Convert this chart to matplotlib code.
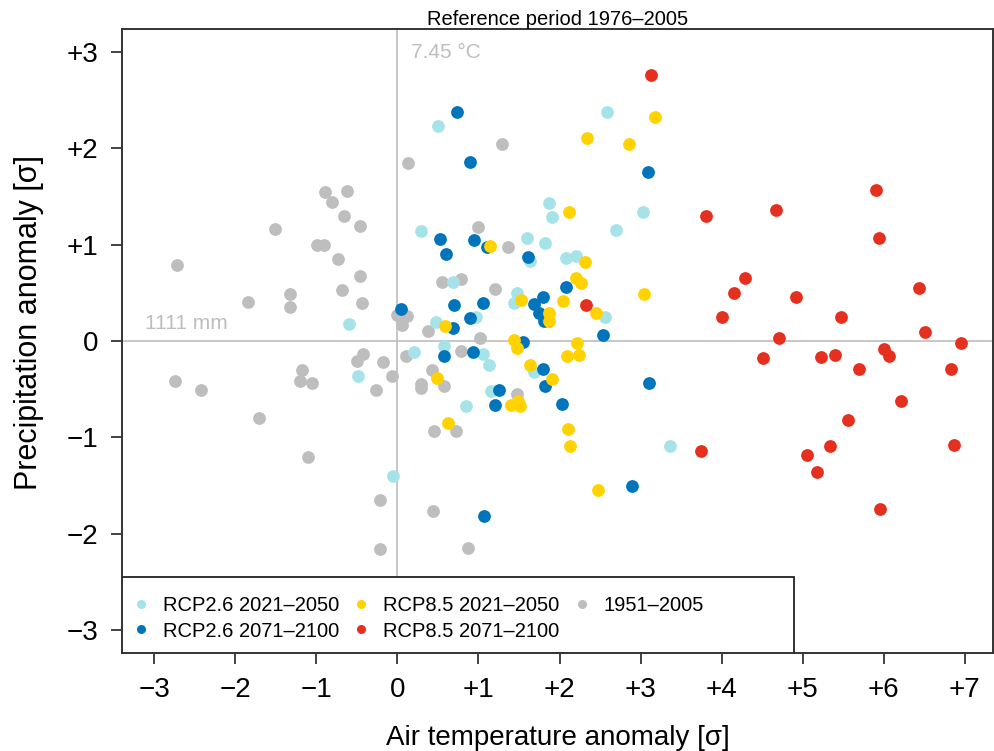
import matplotlib
matplotlib.use("Agg")
import matplotlib.pyplot as plt
from matplotlib.lines import Line2D
from matplotlib.patches import Rectangle

plt.rcParams['font.family'] = ['Liberation Sans', 'DejaVu Sans']

# observed years 1951-2005
gray_x = [0.13, -0.90, -0.62, -0.81, -0.66, -0.46, -1.51, -0.99, -0.91, -0.74, -2.72, -0.46, -0.69, -1.33,
          -1.84, -1.33, -0.44, 0.00, 0.12, 0.06, -2.74, -2.43, -1.18, -1.20, -1.06, -1.71, -1.11, -0.42,
          -0.50, -0.18, -0.27, -0.07, 0.11, -0.22, -0.22, 1.29, 1.00, 1.36, 0.55, 0.79, 1.20, 0.38, 1.02,
          0.79, 0.43, 0.29, 0.29, 0.57, 1.48, 0.45, 0.72, 0.44, 0.87]
gray_y = [1.85, 1.55, 1.56, 1.44, 1.30, 1.19, 1.16, 1.00, 1.00, 0.85, 0.79, 0.67, 0.53, 0.49,
          0.41, 0.35, 0.39, 0.27, 0.26, 0.17, -0.42, -0.51, -0.30, -0.42, -0.44, -0.80, -1.20, -0.14,
          -0.21, -0.22, -0.51, -0.36, -0.16, -1.65, -2.16, 2.05, 1.18, 0.98, 0.61, 0.64, 0.54, 0.10, 0.03,
          -0.10, -0.30, -0.45, -0.49, -0.47, -0.55, -0.93, -0.93, -1.77, -2.15]

# RCP2.6 2021-2050
cyan_x = [-0.60, -0.49, 0.20, -0.05, 0.50, 2.59, 1.87, 1.91, 3.03, 2.70, 0.29, 1.60, 1.82, 1.64, 2.08,
          2.20, 0.69, 1.48, 1.44, 2.56, 0.97, 0.48, 0.58, 1.06, 1.13, 1.68, 1.15, 0.85, 3.36]
cyan_y = [0.18, -0.36, -0.11, -1.40, 2.23, 2.38, 1.43, 1.29, 1.34, 1.15, 1.14, 1.07, 1.02, 0.83, 0.86,
          0.88, 0.61, 0.50, 0.39, 0.25, 0.25, 0.20, -0.05, -0.13, -0.25, -0.32, -0.52, -0.67, -1.09]

# RCP2.6 2071-2100
blue_x = [0.04, 0.73, 0.90, 3.09, 0.53, 0.95, 1.10, 0.60, 1.61, 1.80, 1.69, 1.75, 2.08, 1.81, 2.54,
          0.70, 1.05, 0.89, 0.69, 1.55, 0.57, 0.93, 1.80, 1.82, 1.25, 1.20, 2.03, 3.10, 2.89, 1.07]
blue_y = [0.33, 2.38, 1.86, 1.76, 1.06, 1.05, 0.98, 0.90, 0.87, 0.46, 0.38, 0.29, 0.56, 0.21, 0.06,
          0.37, 0.39, 0.24, 0.13, -0.01, -0.16, -0.11, -0.29, -0.47, -0.51, -0.66, -0.65, -0.44, -1.51, -1.82]

# RCP8.5 2021-2050
yel_x = [2.34, 2.86, 3.18, 2.12, 1.14, 2.31, 2.20, 2.26, 3.04, 1.53, 2.04, 2.45, 1.87, 1.87, 0.59,
         1.44, 2.22, 1.47, 2.09, 2.24, 1.64, 0.49, 1.91, 1.40, 1.49, 1.51, 0.62, 2.11, 2.13, 2.48]
yel_y = [2.11, 2.05, 2.33, 1.34, 0.99, 0.82, 0.65, 0.60, 0.49, 0.43, 0.42, 0.29, 0.29, 0.21, 0.16,
         0.01, -0.02, -0.07, -0.16, -0.15, -0.25, -0.38, -0.39, -0.66, -0.62, -0.67, -0.85, -0.91, -1.09, -1.55]

# RCP8.5 2071-2100
red_x = [2.33, 3.13, 3.81, 4.67, 4.29, 4.15, 4.92, 4.01, 4.71, 4.51, 5.23, 3.75, 5.06, 5.18, 5.34,
         5.90, 5.94, 6.44, 5.48, 6.51, 6.95, 5.40, 6.01, 6.07, 5.70, 6.83, 6.21, 5.56, 6.87, 5.96]
red_y = [0.37, 2.76, 1.30, 1.36, 0.65, 0.50, 0.46, 0.25, 0.03, -0.18, -0.17, -1.14, -1.18, -1.36, -1.09,
         1.57, 1.07, 0.55, 0.25, 0.09, -0.02, -0.15, -0.08, -0.16, -0.29, -0.29, -0.62, -0.82, -1.08, -1.74]

x_ticks = [-3, -2, -1, 0, 1, 2, 3, 4, 5, 6, 7]
x_labels = ['\u22123', '\u22122', '\u22121', '0', '+1', '+2', '+3', '+4', '+5', '+6', '+7']
y_ticks = [-3, -2, -1, 0, 1, 2, 3]
y_labels = ['\u22123', '\u22122', '\u22121', '0', '+1', '+2', '+3']

c_gray = '#bebebe'
c_cyan = '#a6e3e9'
c_blue = '#0075bb'
c_yel = '#ffd200'
c_red = '#e6301f'

fig = plt.figure(figsize=(9.95, 7.51), dpi=100)
ax = fig.add_axes([0.1226, 0.1305, 0.8754, 0.8309])

ax.axvline(0, color=c_gray, lw=1.2, zorder=1)
ax.axhline(0, color=c_gray, lw=1.2, zorder=1)

ms = 9.2
ax.plot(gray_x, gray_y, 'o', ms=ms, color=c_gray, mec='none', zorder=2)
ax.plot(cyan_x, cyan_y, 'o', ms=ms, color=c_cyan, mec='none', zorder=3)
ax.plot(blue_x, blue_y, 'o', ms=ms, color=c_blue, mec='none', zorder=4)
ax.plot(yel_x, yel_y, 'o', ms=ms, color=c_yel, mec='none', zorder=5)
ax.plot(red_x, red_y, 'o', ms=ms, color=c_red, mec='none', zorder=6)

ax.set_xlim(-3.40, 7.35)
ax.set_ylim(-3.24, 3.24)
ax.set_xticks(x_ticks)
ax.set_xticklabels(x_labels)
ax.set_yticks(y_ticks)
ax.set_yticklabels(y_labels)
ax.tick_params(direction='out', length=8, width=1.2, labelsize=20, pad=9, color='#222222')

for sp in ax.spines.values():
    sp.set_color('#333333')
    sp.set_linewidth(1.4)

ax.set_xlabel('Air temperature anomaly [\u03c3]', fontsize=20, labelpad=16)
ax.set_ylabel('Precipitation anomaly [\u03c3]', fontsize=22)
ax.yaxis.set_label_coords(-0.0896, 0.53)
ax.set_title('Reference period 1976\u20132005', fontsize=14.5, pad=2)

ax.text(0.17, 3.0, '7.45 \u00b0C', color=c_gray, fontsize=15, va='center', ha='left')
ax.text(-3.12, 0.08, '1111 mm', color=c_gray, fontsize=15, va='bottom', ha='left')

# legend box, R style, drawn separately so it can be wider than its content
box = Rectangle((0, 0), 0.7715, 0.1218, transform=ax.transAxes, facecolor='white',
                edgecolor='#222222', lw=1.3, zorder=9)
ax.add_patch(box)

handles = [Line2D([], [], ls='none', marker='o', ms=6.5, color=c, mec='none')
           for c in [c_cyan, c_blue, c_yel, c_red, c_gray]]
labels = ['RCP2.6 2021\u20132050', 'RCP2.6 2071\u20132100',
          'RCP8.5 2021\u20132050', 'RCP8.5 2071\u20132100', '1951\u20132005']
leg = ax.legend(handles, labels, loc='lower left', bbox_to_anchor=(0.0126, 0.02), borderaxespad=0,
                ncol=3, fontsize=14.5, frameon=False, handlelength=0.8, handletextpad=0.69,
                columnspacing=0.7, borderpad=0, labelspacing=0.32)
leg.set_zorder(10)

fig.savefig('out.png', dpi=100)
